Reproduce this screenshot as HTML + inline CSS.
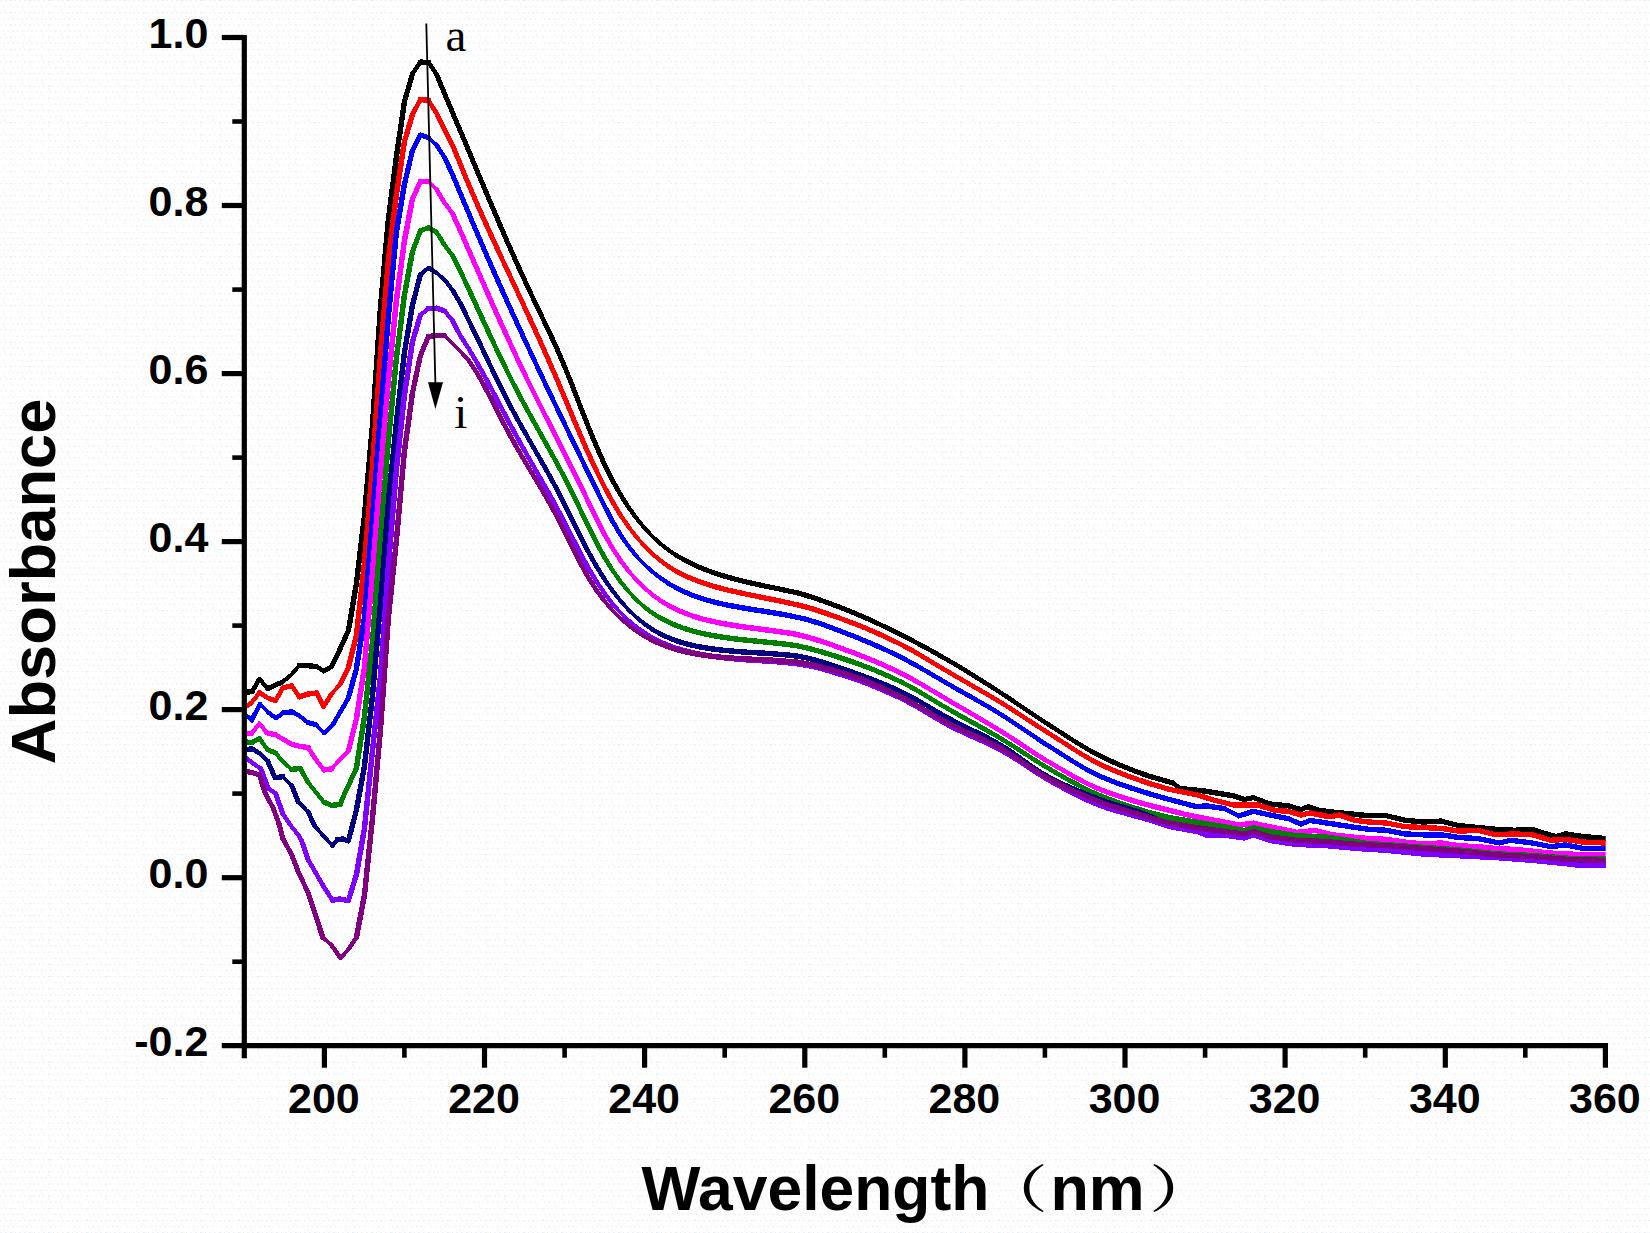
<!DOCTYPE html>
<html><head><meta charset="utf-8"><title>Absorbance vs Wavelength</title>
<style>html,body{margin:0;padding:0;background:#fdfefe;}svg{display:block;}</style>
</head><body>
<svg width="1650" height="1233" viewBox="0 0 1650 1233">
<defs><pattern id="dz" width="19" height="12.2" patternUnits="userSpaceOnUse"><rect width="19" height="12.2" fill="#ffffff"/><g fill="#dfeaf6"><rect x="0.4" y="0" width="1.2" height="1.2"/><rect x="5.2" y="0" width="1.3" height="1.2"/><rect x="9.9" y="0" width="1.9" height="1.2"/><rect x="14.9" y="0" width="1" height="1.2"/></g><g fill="#f4e7f3"><rect x="2.6" y="6.1" width="1.8" height="1.2"/><rect x="7.6" y="6.1" width="1" height="1.2"/><rect x="11.9" y="6.1" width="1.8" height="1.2"/><rect x="16.8" y="6.1" width="1.8" height="1.2"/></g><g fill="#effbe6"><rect x="12.2" y="0" width="1.2" height="1"/><rect x="9.9" y="3.2" width="1.4" height="1.6"/><rect x="3.5" y="9.3" width="1.6" height="1.6"/></g></pattern></defs>
<rect width="1650" height="1233" fill="url(#dz)"/>
<clipPath id="cc"><rect x="240" y="0" width="1365.7" height="1233"/></clipPath>
<g clip-path="url(#cc)" fill="none" stroke-linejoin="round" stroke-linecap="round" shape-rendering="crispEdges">
<g stroke="#000000">
<path stroke-width="4.0" d="M290.6,675.5 299.4,665.3M644.6,528.1 652.6,536.6 660.6,543.9"/>
<path stroke-width="4.2" d="M259.5,678.9 267.7,688.6M281.8,682.3 290.6,675.5M636.6,518.5 644.6,528.1M660.6,543.9 668.6,550.2"/>
<path stroke-width="4.4" d="M412.4,74.1 420.4,62.1M428.4,62.4 436.5,74.0M628.6,507.4 636.6,518.5M668.6,550.2 676.6,555.6M1012.9,700.8 1020.9,706.2 1028.9,711.6 1036.9,717.0M1173.1,783.0 1180.4,788.5"/>
<path stroke-width="4.6" d="M252.2,691.5 259.5,678.9M316.9,666.7 323.7,671.1M620.6,494.8 628.6,507.4M676.6,555.6 684.7,560.2M940.9,656.2 948.9,660.7 956.9,665.4 964.9,670.2 972.9,675.2 980.9,680.2 988.9,685.2 996.9,690.3 1004.9,695.5 1012.9,700.8M1036.9,717.0 1044.9,722.3 1053.0,727.4 1061.0,732.6 1069.0,737.8 1077.0,742.8 1085.0,747.7 1093.0,752.3"/>
<path stroke-width="4.8" d="M323.7,671.1 331.5,666.7 337.3,655.0M524.5,280.0 532.5,297.1 540.5,313.7 548.5,330.5M604.6,464.6 612.6,480.6 620.6,494.8M684.7,560.2 692.7,564.2M876.8,623.0 884.8,626.8 892.8,630.7 900.8,634.6 908.8,638.7 916.8,642.9 924.9,647.2 932.9,651.6 940.9,656.2M1093.0,752.3 1101.0,756.4 1109.0,760.2"/>
<path stroke-width="5.0" d="M267.7,688.6 281.8,682.3M337.3,655.0 348.4,630.6M436.5,74.0 444.5,93.5 452.5,112.5 460.5,131.2 468.5,150.2 476.5,169.4 484.5,188.4 492.5,207.4 500.5,226.1 508.5,244.5 516.5,262.5 524.5,280.0M548.5,330.5 556.6,347.9 564.6,366.5 572.6,386.4 580.6,407.1 588.6,427.5 596.6,446.8 604.6,464.6M692.7,564.2 700.7,567.8 708.7,570.9 716.7,573.7M820.8,600.2 828.8,603.1 836.8,606.1 844.8,609.2 852.8,612.4 860.8,615.8 868.8,619.3 876.8,623.0M1109.0,760.2 1117.0,763.8 1125.0,767.2 1133.0,770.3 1141.0,773.3M1253.4,797.6 1269.9,804.0M1300.9,809.5 1308.2,806.8"/>
<path stroke-width="5.2" d="M404.4,101.8 412.4,74.1M716.7,573.7 724.7,576.3 732.7,578.5 740.7,580.6 748.7,582.5 756.7,584.3 764.7,586.0 772.7,587.6 780.7,589.3 788.7,591.0 796.7,592.7 804.8,595.0 812.8,597.5 820.8,600.2M1141.0,773.3 1149.0,776.1 1173.1,783.0M1233.4,795.8 1244.3,799.5 1253.4,797.6M1288.1,805.8 1300.9,809.5M1308.2,806.8 1319.1,810.4M1386.5,815.7 1404.7,820.2M1441.2,821.1 1459.5,825.7M1532.5,829.3 1543.4,833.0 1556.2,836.6 1565.3,833.9"/>
<path stroke-width="5.4" d="M244.3,692.5 252.2,691.5M299.4,665.3 308.1,665.7 316.9,666.7M348.4,630.6 356.4,583.6 364.4,516.1 372.4,425.6 380.4,308.4 388.4,219.0 396.4,157.1 404.4,101.8M420.4,62.1 428.4,62.4M1180.4,788.5 1206.0,791.2 1233.4,795.8M1269.9,804.0 1288.1,805.8M1319.1,810.4 1333.7,812.2 1350.0,813.8 1368.2,815.7 1386.5,815.7M1404.7,820.2 1423.0,822.0 1441.2,821.1M1459.5,825.7 1477.7,827.5 1496.0,829.3 1514.2,830.3 1532.5,829.3M1565.3,833.9 1583.6,836.6 1605.5,838.5"/>
</g>
<g stroke="#ff0000">
<path stroke-width="3.8" d="M644.6,546.2 652.6,554.0"/>
<path stroke-width="4.0" d="M331.5,694.0 340.2,684.2M636.6,537.2 644.6,546.2"/>
<path stroke-width="4.2" d="M251.7,702.7 259.5,692.5M628.6,526.9 636.6,537.2M652.6,554.0 660.6,560.8"/>
<path stroke-width="4.4" d="M291.6,685.7 299.4,696.9M620.6,515.2 628.6,526.9M660.6,560.8 668.6,566.6"/>
<path stroke-width="4.6" d="M244.3,707.6 251.7,702.7M259.5,692.5 267.7,697.9M275.5,700.8 282.8,688.1M323.7,706.6 331.5,694.0M428.4,100.3 436.5,113.1M612.6,502.0 620.6,515.2M668.6,566.6 676.6,571.5M916.8,653.1 924.9,657.9 932.9,662.7 940.9,667.5 948.9,672.2 956.9,676.9 964.9,681.5 972.9,686.1 980.9,690.7 988.9,695.4 996.9,700.1 1004.9,705.0 1012.9,710.1 1020.9,715.3 1028.9,720.5 1036.9,725.7 1044.9,730.8 1053.0,735.9 1061.0,741.0 1069.0,746.2 1077.0,751.3 1085.0,756.2"/>
<path stroke-width="4.8" d="M316.9,693.0 323.7,706.6M340.2,684.2 348.4,667.5M412.4,114.8 420.4,99.5M436.5,113.1 444.5,129.2 452.5,145.2M500.5,255.6 508.5,272.7 516.5,289.8 524.5,307.0M596.6,471.2 604.6,487.3 612.6,502.0M676.6,571.5 684.7,575.6M884.8,636.7 892.8,640.5 900.8,644.4 908.8,648.6 916.8,653.1M1085.0,756.2 1093.0,760.7 1101.0,764.8"/>
<path stroke-width="5.0" d="M267.7,697.9 275.5,700.8M452.5,145.2 460.5,164.6 468.5,184.1 476.5,202.7 484.5,220.7 492.5,238.3 500.5,255.6M524.5,307.0 532.5,324.4 540.5,342.0 548.5,360.0 556.6,378.6 564.6,397.6 572.6,416.8 580.6,435.7 588.6,453.9 596.6,471.2M684.7,575.6 692.7,579.1 700.7,582.1M828.8,614.3 836.8,617.1 844.8,620.0 852.8,623.1 860.8,626.2 868.8,629.6 876.8,633.0 884.8,636.7M1101.0,764.8 1109.0,768.4 1117.0,771.8 1125.0,774.9 1133.0,777.9 1141.0,780.7"/>
<path stroke-width="5.2" d="M282.8,688.1 291.6,685.7M299.4,696.9 308.1,694.0M348.4,667.5 356.4,635.2M404.4,141.7 412.4,114.8M700.7,582.1 708.7,584.8 716.7,587.2 724.7,589.3 732.7,591.2 740.7,593.0 748.7,594.6 756.7,596.3 764.7,597.9 772.7,599.5 780.7,601.1 788.7,602.9 796.7,604.7 804.8,606.7 812.8,609.0 820.8,611.6 828.8,614.3M1141.0,780.7 1149.0,783.4 1169.5,789.4 1196.9,794.9 1215.1,800.4 1233.4,804.9M1257.1,804.9 1275.3,810.4M1288.1,811.3 1300.9,815.0 1310.0,813.1M1330.1,816.8 1339.2,815.0 1355.0,820.3M1386.5,823.0 1404.7,826.6M1477.7,830.3 1496.0,834.8M1532.5,834.8 1550.7,840.3"/>
<path stroke-width="5.4" d="M308.1,694.0 316.9,693.0M356.4,635.2 364.4,563.2 372.4,467.7 380.4,356.1 388.4,259.6 396.4,194.8 404.4,141.7M420.4,99.5 428.4,100.3M1233.4,804.9 1257.1,804.9M1275.3,810.4 1288.1,811.3M1310.0,813.1 1330.1,816.8M1355.0,820.3 1368.2,822.0 1386.5,823.0M1404.7,826.6 1423.0,827.5 1441.2,828.4 1459.5,831.2 1477.7,830.3M1496.0,834.8 1514.2,833.9 1532.5,834.8M1550.7,840.3 1565.3,839.4 1583.6,842.1 1605.5,843.0"/>
</g>
<g stroke="#0000ff">
<path stroke-width="3.8" d="M260.0,704.2 268.2,712.5M324.2,733.4 332.5,725.1"/>
<path stroke-width="4.0" d="M244.3,713.4 251.7,720.2M315.9,724.6 324.2,733.4M428.4,137.8 436.5,145.1M636.6,556.4 644.6,564.7 652.6,571.9"/>
<path stroke-width="4.2" d="M299.4,715.9 308.1,722.7M628.6,546.5 636.6,556.4M652.6,571.9 660.6,578.1"/>
<path stroke-width="4.4" d="M268.2,712.5 276.0,718.3 283.8,712.5M620.6,534.9 628.6,546.5M660.6,578.1 668.6,583.5M1012.9,722.2 1020.9,727.6 1028.9,733.0 1036.9,738.4"/>
<path stroke-width="4.6" d="M292.6,712.0 299.4,715.9M332.5,725.1 341.2,710.5 348.4,698.0M436.5,145.1 444.5,157.2M612.6,521.4 620.6,534.9M668.6,583.5 676.6,588.1M916.8,665.8 924.9,670.4 932.9,675.1 940.9,679.8 948.9,684.5 956.9,689.0M972.9,698.0 980.9,702.6 988.9,707.2 996.9,712.0 1004.9,717.0 1012.9,722.2M1036.9,738.4 1044.9,743.7 1053.0,748.7 1061.0,753.8 1069.0,758.9 1077.0,763.9 1085.0,768.6"/>
<path stroke-width="4.8" d="M251.7,720.2 260.0,704.2M412.4,150.5 420.4,135.0M524.5,339.3 532.5,356.5 540.5,373.6 548.5,390.5 556.6,407.3 564.6,424.0 572.6,440.6 580.6,457.1 588.6,473.6 596.6,490.0 604.6,506.2 612.6,521.4M676.6,588.1 684.7,592.0M884.8,649.5 892.8,653.3 900.8,657.2 908.8,661.4 916.8,665.8M956.9,689.0 964.9,693.5 972.9,698.0M1085.0,768.6 1093.0,772.9 1101.0,776.6M1224.2,808.6 1238.8,815.9"/>
<path stroke-width="5.0" d="M420.4,135.0 428.4,137.8M444.5,157.2 452.5,174.6 460.5,193.6 468.5,212.8 476.5,231.7 484.5,250.3 492.5,268.6 500.5,286.6 508.5,304.4 516.5,322.0 524.5,339.3M684.7,592.0 692.7,595.3 700.7,598.2M820.8,623.8 828.8,626.7 836.8,629.7 844.8,632.8 852.8,635.9 860.8,639.1 868.8,642.4 876.8,645.9 884.8,649.5M1101.0,776.6 1109.0,780.0 1117.0,783.1 1125.0,785.9M1288.1,818.6 1300.9,824.1 1310.0,820.4"/>
<path stroke-width="5.2" d="M308.1,722.7 315.9,724.6M348.4,698.0 356.4,668.9M404.4,184.5 412.4,150.5M700.7,598.2 708.7,600.6 716.7,602.7 724.7,604.5 732.7,606.1M788.7,615.5 796.7,617.2 804.8,619.0 812.8,621.3 820.8,623.8M1125.0,785.9 1133.0,788.6 1141.0,791.2 1149.0,793.7 1169.5,799.5 1196.9,806.8M1238.8,815.9 1253.4,811.3 1269.9,815.0 1288.1,818.6M1386.5,830.3 1404.7,833.9M1477.7,838.5 1499.6,843.0 1510.6,840.3M1532.5,843.0 1550.7,846.7M1565.3,844.9 1583.6,848.5"/>
<path stroke-width="5.4" d="M283.8,712.5 292.6,712.0M356.4,668.9 364.4,617.6 372.4,518.5 380.4,416.5 388.4,316.4 396.4,232.1 404.4,184.5M732.7,606.1 740.7,607.5 748.7,608.9 756.7,610.2 764.7,611.4 772.7,612.7 780.7,614.1 788.7,615.5M1196.9,806.8 1206.0,805.8 1224.2,808.6M1310.0,820.4 1333.7,824.1 1350.0,826.6 1368.2,829.3 1386.5,830.3M1404.7,833.9 1423.0,834.8 1441.2,834.8 1459.5,837.6 1477.7,838.5M1510.6,840.3 1532.5,843.0M1550.7,846.7 1565.3,844.9M1583.6,848.5 1605.5,848.5"/>
</g>
<g stroke="#ff00ff">
<path stroke-width="3.8" d="M339.3,760.2 348.4,751.1M428.4,181.3 436.5,189.3M636.6,580.2 644.6,588.1"/>
<path stroke-width="4.0" d="M331.5,768.9 339.3,760.2M628.6,571.1 636.6,580.2"/>
<path stroke-width="4.2" d="M251.7,733.4 259.5,723.4 266.8,732.9M644.6,588.1 652.6,594.9"/>
<path stroke-width="4.4" d="M314.9,758.2 323.7,769.9M444.5,202.8 452.5,213.5M620.6,560.5 628.6,571.1M652.6,594.9 660.6,600.7"/>
<path stroke-width="4.6" d="M276.0,734.9 283.8,739.7M308.1,747.5 314.9,758.2M436.5,189.3 444.5,202.8M604.6,534.4 612.6,548.3 620.6,560.5M660.6,600.7 668.6,605.6M916.8,681.6 924.9,686.3 932.9,691.0 940.9,695.8 948.9,700.5 956.9,705.2 964.9,709.8 972.9,714.5 980.9,719.1 988.9,723.9 996.9,728.7 1004.9,733.7 1012.9,738.8 1020.9,744.1 1028.9,749.4 1036.9,754.7 1044.9,759.7 1053.0,764.4 1061.0,769.1 1069.0,773.8"/>
<path stroke-width="4.8" d="M283.8,739.7 292.6,744.6M508.5,339.7 516.5,357.0 524.5,373.8 532.5,390.1 540.5,406.0 548.5,421.8 556.6,437.6 564.6,453.4 572.6,469.4 580.6,485.7 588.6,502.4 596.6,519.0 604.6,534.4M668.6,605.6 676.6,609.7M892.8,669.3 900.8,673.1 908.8,677.2 916.8,681.6M1069.0,773.8 1077.0,778.3 1085.0,782.5 1093.0,786.4"/>
<path stroke-width="5.0" d="M412.4,199.0 420.4,181.5M452.5,213.5 460.5,231.2 468.5,249.4 476.5,267.7 484.5,286.0 492.5,304.2 500.5,322.1 508.5,339.7M676.6,609.7 684.7,613.1 692.7,616.0M828.8,643.8 836.8,646.7 844.8,649.6 852.8,652.5 860.8,655.6 868.8,658.8 876.8,662.1 884.8,665.6 892.8,669.3M1093.0,786.4 1101.0,789.8 1109.0,792.8 1117.0,795.6"/>
<path stroke-width="5.2" d="M266.8,732.9 276.0,734.9M292.6,744.6 300.3,746.5M348.4,751.1 356.4,718.9M692.7,616.0 700.7,618.5 708.7,620.5 716.7,622.3M796.7,634.4 804.8,636.4 812.8,638.7 820.8,641.1 828.8,643.8M1117.0,795.6 1125.0,798.2 1133.0,800.7 1141.0,803.0 1149.0,805.2 1169.5,810.4 1187.7,815.0 1215.1,820.4M1253.4,823.2 1269.9,826.8 1297.2,832.3M1315.5,830.5 1333.7,835.0"/>
<path stroke-width="5.4" d="M244.3,733.9 251.7,733.4M300.3,746.5 308.1,747.5M323.7,769.9 331.5,768.9M356.4,718.9 364.4,667.9 372.4,572.9 380.4,471.2 388.4,380.8 396.4,300.7 404.4,241.0 412.4,199.0M420.4,181.5 428.4,181.3M716.7,622.3 724.7,623.9 732.7,625.2 740.7,626.5 748.7,627.6 756.7,628.6 764.7,629.7 772.7,630.7 780.7,631.9 788.7,633.1 796.7,634.4M1215.1,820.4 1238.8,825.0 1253.4,823.2M1297.2,832.3 1315.5,830.5M1333.7,835.0 1355.0,837.3 1368.2,838.5 1386.5,839.4 1404.7,842.1 1423.0,843.9 1441.2,843.0 1459.5,845.8 1477.7,846.7 1496.0,848.5 1514.2,849.4 1532.5,851.2 1550.7,853.1 1569.0,854.0 1587.2,854.9 1605.5,854.9"/>
</g>
<g stroke="#008000">
<path stroke-width="4.0" d="M283.3,762.1 291.6,769.4M628.6,591.5 636.6,600.0 644.6,607.2"/>
<path stroke-width="4.2" d="M275.5,752.9 283.3,762.1M308.1,782.6 315.9,792.3 323.7,802.0M620.6,581.7 628.6,591.5"/>
<path stroke-width="4.4" d="M259.5,738.3 267.3,749.5M444.5,245.0 452.5,255.7M612.6,570.4 620.6,581.7M644.6,607.2 652.6,613.2"/>
<path stroke-width="4.6" d="M436.5,232.1 444.5,245.0M604.6,557.5 612.6,570.4M652.6,613.2 660.6,618.1M916.8,690.4 924.9,695.1 932.9,699.9 940.9,704.7 948.9,709.4M988.9,731.6 996.9,736.2 1004.9,741.0 1012.9,746.0 1020.9,751.1 1028.9,756.3 1036.9,761.4 1044.9,766.3 1053.0,771.0 1061.0,775.6"/>
<path stroke-width="4.8" d="M251.7,742.7 259.5,738.3M300.3,768.4 308.1,782.6M345.1,792.3 348.4,785.7M428.4,227.8 436.5,232.1M452.5,255.7 460.5,271.5 468.5,288.5M492.5,340.7 500.5,357.6 508.5,374.0 516.5,389.8 524.5,404.8 532.5,419.4 540.5,433.7 548.5,448.1 556.6,462.7 564.6,477.7 572.6,493.5 580.6,510.2 588.6,527.0 596.6,542.9 604.6,557.5M660.6,618.1 668.6,622.2M892.8,678.1 900.8,681.8 908.8,685.9 916.8,690.4M948.9,709.4 956.9,713.9 964.9,718.3 972.9,722.7 980.9,727.1 988.9,731.6M1061.0,775.6 1069.0,780.1 1077.0,784.4 1085.0,788.6 1093.0,792.4"/>
<path stroke-width="5.0" d="M267.3,749.5 275.5,752.9M323.7,802.0 331.5,805.4M340.2,804.5 345.1,792.3M348.4,785.7 356.4,768.0M412.4,251.8 420.4,230.7 428.4,227.8M468.5,288.5 476.5,306.0 484.5,323.4 492.5,340.7M668.6,622.2 676.6,625.7 684.7,628.6M852.8,662.0 860.8,664.8 868.8,667.9 876.8,671.1 884.8,674.5 892.8,678.1M1093.0,792.4 1101.0,795.9 1109.0,799.1 1117.0,802.1 1125.0,804.9"/>
<path stroke-width="5.2" d="M684.7,628.6 692.7,631.0 700.7,633.0 708.7,634.8M796.7,645.7 804.8,647.5 812.8,649.5 820.8,651.7 828.8,654.1 836.8,656.6 844.8,659.2 852.8,662.0M1125.0,804.9 1133.0,807.5 1141.0,810.0 1149.0,812.4 1169.5,817.7M1244.3,830.5 1253.4,827.7 1269.9,831.4"/>
<path stroke-width="5.4" d="M244.3,741.7 251.7,742.7M291.6,769.4 300.3,768.4M331.5,805.4 340.2,804.5M356.4,768.0 364.4,717.2 372.4,642.2 380.4,537.9 388.4,441.0 396.4,358.0 404.4,295.2 412.4,251.8M708.7,634.8 716.7,636.2 724.7,637.5 732.7,638.6 740.7,639.5 748.7,640.4 756.7,641.2 764.7,642.0 772.7,642.8 780.7,643.6 788.7,644.6 796.7,645.7M1169.5,817.7 1196.9,822.3 1224.2,826.8 1244.3,830.5M1269.9,831.4 1297.2,835.9 1324.6,836.9 1350.0,840.5 1368.2,843.6 1386.5,844.6 1404.7,846.0 1423.0,847.3 1441.2,848.6 1459.5,850.0 1477.7,851.8 1496.0,853.7 1514.2,854.6 1532.5,855.5 1550.7,856.9 1569.0,858.3 1587.2,858.8 1605.5,859.2"/>
</g>
<g stroke="#000080">
<path stroke-width="3.8" d="M282.8,776.7 291.6,785.5M298.4,802.0 308.1,811.8"/>
<path stroke-width="4.0" d="M259.5,753.4 267.7,761.1M314.9,826.4 323.7,836.1 332.5,845.8M436.5,272.8 444.5,279.8M620.6,601.0 628.6,609.9 636.6,617.5"/>
<path stroke-width="4.2" d="M332.5,845.8 337.3,839.5M420.4,274.5 428.4,267.9M444.5,279.8 452.5,289.9M612.6,590.9 620.6,601.0M636.6,617.5 644.6,624.1"/>
<path stroke-width="4.4" d="M604.6,579.4 612.6,590.9M644.6,624.1 652.6,629.6M1012.9,752.8 1020.9,758.4 1028.9,764.2 1036.9,769.7"/>
<path stroke-width="4.6" d="M252.7,749.0 259.5,753.4M428.4,267.9 436.5,272.8M452.5,289.9 460.5,303.7M524.5,431.8 532.5,445.7 540.5,459.6M596.6,566.6 604.6,579.4M652.6,629.6 660.6,634.1M916.8,699.8 924.9,704.4 932.9,709.1 940.9,713.8M996.9,742.7 1004.9,747.5 1012.9,752.8M1036.9,769.7 1044.9,774.8"/>
<path stroke-width="4.8" d="M308.1,811.8 314.9,826.4M460.5,303.7 468.5,319.9 476.5,336.4 484.5,353.3 492.5,370.2 500.5,386.7 508.5,402.6 516.5,417.5 524.5,431.8M540.5,459.6 548.5,473.9 556.6,488.7 564.6,504.4 572.6,520.7 580.6,536.9 588.6,552.3 596.6,566.6M660.6,634.1 668.6,637.8M900.8,691.4 908.8,695.4 916.8,699.8M940.9,713.8 948.9,718.3 956.9,722.5 964.9,726.5 972.9,730.4 980.9,734.3 988.9,738.4 996.9,742.7M1044.9,774.8 1053.0,779.1 1061.0,783.1 1069.0,786.8"/>
<path stroke-width="5.0" d="M267.7,761.1 275.0,777.7M291.6,785.5 298.4,802.0M343.2,839.0 348.4,841.1M668.6,637.8 676.6,640.9M852.8,672.3 860.8,675.1 868.8,678.1 876.8,681.1 884.8,684.4 892.8,687.8 900.8,691.4M1069.0,786.8 1077.0,790.3 1085.0,793.7 1093.0,796.8 1101.0,799.9 1109.0,802.7M1141.0,812.7 1149.0,815.6 1169.5,825.0"/>
<path stroke-width="5.2" d="M348.4,841.1 356.4,810.0M412.4,305.4 420.4,274.5M676.6,640.9 684.7,643.4 692.7,645.4 700.7,647.1M804.8,657.5 812.8,659.4 820.8,661.6 828.8,664.1 836.8,666.9 844.8,669.6 852.8,672.3M1109.0,802.7 1117.0,805.2 1125.0,807.6 1133.0,810.1 1141.0,812.7M1244.3,836.0 1253.4,833.5 1269.9,838.5"/>
<path stroke-width="5.4" d="M244.3,749.5 252.7,749.0M275.0,777.7 282.8,776.7M337.3,839.5 343.2,839.0M356.4,810.0 364.4,766.6 372.4,696.7 380.4,604.0 388.4,501.5 396.4,422.2 404.4,352.6 412.4,305.4M700.7,647.1 708.7,648.4 716.7,649.5 724.7,650.4 732.7,651.1 740.7,651.8 748.7,652.3 756.7,652.8 764.7,653.2 772.7,653.8 780.7,654.4 788.7,655.1 796.7,656.1 804.8,657.5M1169.5,825.0 1196.9,829.5 1224.2,833.0 1244.3,836.0M1269.9,838.5 1297.2,842.0 1324.6,843.5 1360.0,847.0 1386.5,849.5 1423.0,853.0 1459.5,855.5 1496.0,857.5 1532.5,860.0 1569.0,863.5 1605.5,865.0"/>
</g>
<g stroke="#8000ff">
<path stroke-width="3.8" d="M620.6,612.7 628.6,620.5"/>
<path stroke-width="4.0" d="M612.6,603.8 620.6,612.7"/>
<path stroke-width="4.2" d="M290.6,825.4 298.4,835.1M420.4,315.0 428.4,308.5M444.5,310.9 452.5,320.7M604.6,593.5 612.6,603.8M628.6,620.5 636.6,627.2"/>
<path stroke-width="4.4" d="M244.3,756.8 252.7,763.1 260.9,768.9M268.2,788.4 275.5,793.3M282.8,813.7 290.6,825.4M596.6,581.7 604.6,593.5M636.6,627.2 644.6,633.0"/>
<path stroke-width="4.6" d="M298.4,835.1 301.3,840.0M308.1,859.5 315.9,873.1 323.7,886.7 332.5,900.3M460.5,335.9 468.5,348.3 476.5,361.8M524.5,450.5 532.5,464.5 540.5,478.5 548.5,492.6M588.6,568.4 596.6,581.7M644.6,633.0 652.6,637.9M916.8,707.0 924.9,711.8 932.9,716.6 940.9,721.2M1004.9,752.6 1012.9,757.4 1020.9,762.6 1028.9,767.9 1036.9,773.2 1044.9,778.1"/>
<path stroke-width="4.8" d="M452.5,320.7 460.5,335.9M476.5,361.8 484.5,376.1 492.5,391.0 500.5,406.2 508.5,421.3 516.5,436.1 524.5,450.5M548.5,492.6 556.6,507.2 564.6,522.4 572.6,538.1 580.6,553.7 588.6,568.4M652.6,637.9 660.6,642.0M892.8,694.6 900.8,698.4 908.8,702.5 916.8,707.0M940.9,721.2 948.9,725.6 956.9,729.6 964.9,733.3M980.9,740.5 988.9,744.2 996.9,748.2 1004.9,752.6M1044.9,778.1 1053.0,782.6 1061.0,787.0 1069.0,791.3 1077.0,795.4 1085.0,799.2"/>
<path stroke-width="5.0" d="M260.9,768.9 268.2,788.4M275.5,793.3 282.8,813.7M301.3,840.0 308.1,859.5M660.6,642.0 668.6,645.4 676.6,648.3M852.8,678.4 860.8,681.2 868.8,684.3 876.8,687.6 884.8,691.0 892.8,694.6M964.9,733.3 972.9,736.9 980.9,740.5M1085.0,799.2 1093.0,802.7 1101.0,805.9M1196.9,831.5 1206.0,835.0"/>
<path stroke-width="5.2" d="M340.2,898.9 348.4,900.7 356.4,874.7M412.4,342.0 420.4,315.0M436.5,308.2 444.5,310.9M676.6,648.3 684.7,650.7 692.7,652.7 700.7,654.4M804.8,665.0 812.8,666.6 820.8,668.6 828.8,670.8 836.8,673.3 844.8,675.8 852.8,678.4M1101.0,805.9 1109.0,808.6 1117.0,811.0 1125.0,813.2 1133.0,815.4 1141.0,817.6 1149.0,819.9 1169.5,826.5M1244.3,838.0 1253.4,835.0 1269.9,840.5"/>
<path stroke-width="5.4" d="M332.5,900.3 340.2,898.9M356.4,874.7 364.4,828.9 372.4,751.5 380.4,676.6 388.4,566.0 396.4,470.2 404.4,395.6 412.4,342.0M428.4,308.5 436.5,308.2M700.7,654.4 708.7,655.8 716.7,656.9 724.7,657.9 732.7,658.7 740.7,659.4 748.7,660.0 756.7,660.5 764.7,661.0 772.7,661.5 780.7,662.1 788.7,662.9 796.7,663.7 804.8,665.0M1169.5,826.5 1196.9,831.5M1206.0,835.0 1224.2,835.0 1244.3,838.0M1269.9,840.5 1297.2,844.5 1324.6,845.5 1360.0,848.7 1386.5,850.3 1423.0,854.0 1459.5,855.8 1496.0,857.6 1532.5,860.4 1569.0,864.0 1581.8,865.8 1605.5,864.9"/>
</g>
<g stroke="#800080">
<path stroke-width="3.8" d="M444.5,335.6 452.5,343.7 460.5,351.4M612.6,610.5 620.6,618.4"/>
<path stroke-width="4.0" d="M322.7,937.3 331.5,945.1M340.5,958.0 348.4,949.5M460.5,351.4 468.5,360.4M604.6,601.3 612.6,610.5"/>
<path stroke-width="4.2" d="M620.6,618.4 628.6,625.2"/>
<path stroke-width="4.4" d="M331.5,945.1 340.5,958.0M348.4,949.5 356.4,937.5M468.5,360.4 476.5,372.2M596.6,590.6 604.6,601.3M628.6,625.2 636.6,631.2M1020.9,760.8 1028.9,766.2"/>
<path stroke-width="4.6" d="M476.5,372.2 484.5,386.3M516.5,447.2 524.5,460.9 532.5,474.2 540.5,487.6 548.5,501.3M588.6,578.0 596.6,590.6M636.6,631.2 644.6,636.2M916.8,705.2 924.9,709.9 932.9,714.5 940.9,719.1M1004.9,750.5 1012.9,755.5 1020.9,760.8M1028.9,766.2 1036.9,771.5 1044.9,776.4"/>
<path stroke-width="4.8" d="M265.3,793.3 273.1,807.9M282.8,838.5 291.6,854.6M298.4,872.1 308.1,892.6M484.5,386.3 492.5,401.6 500.5,417.4 508.5,432.7 516.5,447.2M548.5,501.3 556.6,515.8 564.6,531.5 572.6,547.8 580.6,563.6 588.6,578.0M644.6,636.2 652.6,640.5M884.8,689.1 892.8,692.9 900.8,696.7 908.8,700.8 916.8,705.2M940.9,719.1 948.9,723.4 956.9,727.4 964.9,731.1M980.9,738.3 988.9,742.1 996.9,746.1 1004.9,750.5M1044.9,776.4 1053.0,780.8 1061.0,784.8 1069.0,788.8 1077.0,792.5"/>
<path stroke-width="5.0" d="M273.1,807.9 278.9,823.4M291.6,854.6 298.4,872.1M420.4,355.5 428.4,336.5M652.6,640.5 660.6,644.1 668.6,647.1M852.8,676.1 860.8,678.9 868.8,682.1 876.8,685.5 884.8,689.1M964.9,731.1 972.9,734.7 980.9,738.3M1077.0,792.5 1085.0,796.0 1093.0,799.3 1101.0,802.4 1109.0,805.2"/>
<path stroke-width="5.2" d="M244.3,770.9 252.7,772.8 259.5,774.8 265.3,793.3M278.9,823.4 282.8,838.5M308.1,892.6 315.9,915.9 322.7,937.3M412.4,393.3 420.4,355.5M668.6,647.1 676.6,649.6 684.7,651.7 692.7,653.4M812.8,664.9 820.8,666.8 828.8,668.9 836.8,671.1 844.8,673.6 852.8,676.1M1109.0,805.2 1117.0,807.7 1125.0,810.2 1133.0,812.5 1141.0,814.9 1149.0,817.2 1169.5,823.2M1244.3,834.1 1253.4,831.4 1269.9,836.9"/>
<path stroke-width="5.4" d="M356.4,937.5 364.4,895.4 372.4,819.2 380.4,730.5 388.4,617.9 396.4,540.4 404.4,451.5 412.4,393.3M428.4,336.5 436.5,335.5 444.5,335.6M692.7,653.4 700.7,654.7 708.7,655.9 716.7,656.8 724.7,657.5 732.7,658.1 740.7,658.6 748.7,659.1 756.7,659.4 764.7,659.8 772.7,660.2 780.7,660.8 788.7,661.4 796.7,662.1 804.8,663.4 812.8,664.9M1169.5,823.2 1196.9,827.7 1224.2,831.4 1244.3,834.1M1269.9,836.9 1297.2,840.5 1324.6,841.4 1350.0,843.9 1386.5,845.8 1423.0,848.5 1459.5,851.2 1496.0,854.9 1532.5,856.7 1569.0,859.5 1605.5,860.4"/>
</g>
</g>
<g stroke="#000" stroke-width="5.2" fill="none" stroke-linecap="butt">
<path d="M244.3,34.9 V1058.2"/>
<path d="M221.8,1045.7 H1608.0"/>
<path d="M232.3,961.7 H244.3" stroke-width="4.6"/>
<path d="M221.8,877.7 H244.3"/>
<path d="M232.3,793.6 H244.3" stroke-width="4.6"/>
<path d="M221.8,709.6 H244.3"/>
<path d="M232.3,625.6 H244.3" stroke-width="4.6"/>
<path d="M221.8,541.6 H244.3"/>
<path d="M232.3,457.6 H244.3" stroke-width="4.6"/>
<path d="M221.8,373.6 H244.3"/>
<path d="M232.3,289.6 H244.3" stroke-width="4.6"/>
<path d="M221.8,205.5 H244.3"/>
<path d="M232.3,121.5 H244.3" stroke-width="4.6"/>
<path d="M221.8,37.5 H244.3"/>
<path d="M324.4,1045.7 V1067.7"/>
<path d="M404.4,1045.7 V1057.7" stroke-width="4.6"/>
<path d="M484.5,1045.7 V1067.7"/>
<path d="M564.6,1045.7 V1057.7" stroke-width="4.6"/>
<path d="M644.6,1045.7 V1067.7"/>
<path d="M724.7,1045.7 V1057.7" stroke-width="4.6"/>
<path d="M804.8,1045.7 V1067.7"/>
<path d="M884.8,1045.7 V1057.7" stroke-width="4.6"/>
<path d="M964.9,1045.7 V1067.7"/>
<path d="M1044.9,1045.7 V1057.7" stroke-width="4.6"/>
<path d="M1125.0,1045.7 V1067.7"/>
<path d="M1205.1,1045.7 V1057.7" stroke-width="4.6"/>
<path d="M1285.1,1045.7 V1067.7"/>
<path d="M1365.2,1045.7 V1057.7" stroke-width="4.6"/>
<path d="M1445.3,1045.7 V1067.7"/>
<path d="M1525.3,1045.7 V1057.7" stroke-width="4.6"/>
<path d="M1605.4,1045.7 V1067.7"/>
</g>
<g font-family="'Liberation Sans', Arial, sans-serif" font-weight="bold" font-size="43" fill="#000">
<text x="208.4" y="1056.2" text-anchor="end">-0.2</text>
<text x="208.4" y="888.2" text-anchor="end">0.0</text>
<text x="208.4" y="720.1" text-anchor="end">0.2</text>
<text x="208.4" y="552.1" text-anchor="end">0.4</text>
<text x="208.4" y="384.1" text-anchor="end">0.6</text>
<text x="208.4" y="216.0" text-anchor="end">0.8</text>
<text x="208.4" y="48.0" text-anchor="end">1.0</text>
<text x="323.9" y="1113.3" text-anchor="middle">200</text>
<text x="484.0" y="1113.3" text-anchor="middle">220</text>
<text x="644.1" y="1113.3" text-anchor="middle">240</text>
<text x="804.3" y="1113.3" text-anchor="middle">260</text>
<text x="964.4" y="1113.3" text-anchor="middle">280</text>
<text x="1124.5" y="1113.3" text-anchor="middle">300</text>
<text x="1284.6" y="1113.3" text-anchor="middle">320</text>
<text x="1444.8" y="1113.3" text-anchor="middle">340</text>
<text x="1604.9" y="1113.3" text-anchor="middle">360</text>
</g>
<g font-family="'Liberation Sans', Arial, sans-serif" font-weight="bold" font-size="62.8" fill="#000">
<text x="641.5" y="1209.5" font-size="62.4">Wavelength</text>
<text x="1050.5" y="1209.5">nm</text>
<text transform="translate(54.8,764.3) rotate(-90)" font-size="63.3">Absorbance</text>
</g>
<g font-family="'Liberation Serif', 'Noto Serif CJK SC', serif" font-weight="600" font-size="51" fill="#000">
<text transform="translate(979.9,1207.5) scale(1.33,1)">（</text>
<text transform="translate(1149.2,1207.5) scale(1.33,1)">）</text>
</g>
<path d="M426.3,23.5 L435.4,384" stroke="#000" stroke-width="1.8" fill="none"/>
<path d="M428,382.3 L443,382.3 L435.4,409 Z" fill="#000"/>
<g font-family="'Liberation Serif', 'Times New Roman', serif" font-size="47" fill="#000">
<text x="445.5" y="50.5">a</text>
<text x="454.3" y="427.5">i</text>
</g>
</svg>
</body></html>
